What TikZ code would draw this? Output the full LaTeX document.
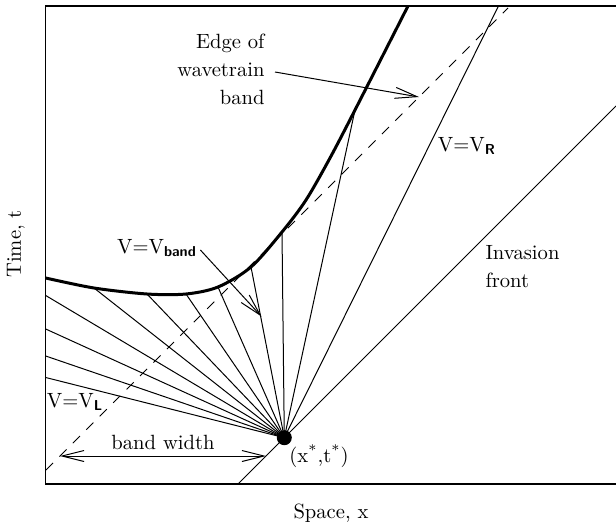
\documentclass[tikz,border=0pt]{standalone}
\usepackage{tikz}
\usetikzlibrary{arrows.meta}

\tikzset{
  lbl/.style={font=\fontsize{10.3}{14}\selectfont, inner sep=0pt},
  barb/.style={line width=0.5pt, -{Straight Barb[length=11pt,width=5.5pt]}},
  barbs/.style={line width=0.5pt, {Straight Barb[length=11pt,width=5.5pt]}-{Straight Barb[length=11pt,width=5.5pt]}},
}
\newcommand{\sub}[1]{\textsubscript{\sffamily\bfseries #1}}

\begin{document}
\begin{tikzpicture}[x=0.5pt,y=-0.5pt,line width=0.5pt]
\useasboundingbox (0,0) rectangle (616,524);

% Frame, its right side runs off the page
\draw[line width=0.7pt] (616,6) -- (45.7,6) -- (45.7,484) -- (616,484);

% --- The point (x*,t*) ---
\node[circle,fill,inner sep=0pt,minimum size=7.5pt] (star) at (284.3,437.7) {};

% --- Fan of lines ---
\foreach \y in {295.5,329,356,377.5}
  \draw (star.center) -- (45.7,\y);
\foreach \x/\y in {94/288,147/294,186/294,218/287,251/267,282/232,355/110}
  \draw (star.center) -- (\x,\y);

% Edge of the band
\draw[line width=1.5pt] plot[smooth,tension=0.5] coordinates
  {(45.7,278) (94,288) (147,294) (186,294) (218,287) (251,267) (282,232)
   (306,200) (330,158) (355,110) (408,6)};

% V = V_R and the invasion front
\coordinate (rtop) at (498.5,6);
\coordinate (fbot) at (238,484);
\coordinate (ftop) at (616,106);
\draw (star.center) -- (rtop);
\draw (fbot) -- (ftop);

% Dashed line
\coordinate (dbot) at (46,470);
\coordinate (dtop) at (508,8);
\draw[dash pattern=on 5pt off 4.5pt] (dbot) -- (dtop);

% --- Labels ---
\node[lbl,align=right,anchor=east] (edge) at (265,69) {Edge of\\wavetrain\\band};
\coordinate (edgetip) at (419,97);
\draw[barb] ([xshift=5pt,yshift=-1.5pt]edge.east) -- (edgetip);

\node[lbl] (vband) at (157,248) {V=V\sub{band}};
\coordinate (bandtip) at (261.5,316.5);
\draw[barb] ([xshift=1.5pt,yshift=-1pt]vband.east) -- (bandtip);

\node[lbl] (vl) at (75,402) {V=V\sub{L}};
\node[lbl] (vr) at (467,146) {V=V\sub{R}};
\node[lbl,align=left,anchor=west] (inv) at (485,267) {Invasion\\front};
\node[lbl] (xt) at (319,456) {(x\textsuperscript{*},t\textsuperscript{*})};

\node[lbl] (bw) at (163,442) {band width};
\coordinate (bwl) at (60,456);
\coordinate (bwr) at (266,456);
\draw[barbs] (bwl) -- (bwr);

% Axis titles
\node[lbl] (xlab) at (331,513) {Space, x};
\node[lbl,rotate=90] (tlab) at (16,244) {Time, t};

\end{tikzpicture}
\end{document}
